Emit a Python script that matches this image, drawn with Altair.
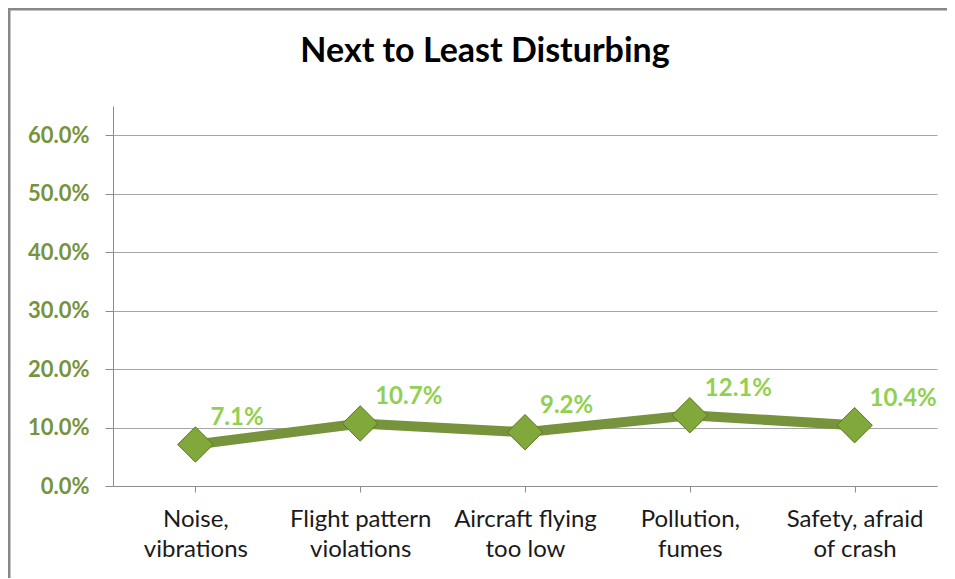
import altair as alt
import pandas as pd

line1 = ["Noise,", "Flight pattern", "Aircraft flying", "Pollution,", "Safety, afraid"]
line2 = ["vibrations", "violations", "too low", "fumes", "of crash"]
values = [0.071, 0.107, 0.092, 0.121, 0.104]
y_ticks = [0.0, 0.1, 0.2, 0.3, 0.4, 0.5, 0.6]

cats = [a + "\n" + b for a, b in zip(line1, line2)]
df = pd.DataFrame({"cat": cats, "val": values})

FONT = "Lato"
GREEN = "#77933C"
LABEL_GREEN = "#92D050"

x = alt.X("cat:N", sort=cats, title=None,
          scale=alt.Scale(paddingInner=0, paddingOuter=0),
          axis=alt.Axis(labelExpr="split(datum.value, '\\n')", labelAngle=0,
                        labelFont=FONT, labelFontSize=24, labelColor="#1a1a1a",
                        labelLineHeight=30, labelPadding=15, labelBaseline="top",
                        bandPosition=0, tickSize=6, tickColor="#8c8c8c",
                        domainColor="#8c8c8c", grid=False))
y = alt.Y("val:Q", title=None,
          scale=alt.Scale(domain=[0, 0.65], nice=False),
          axis=alt.Axis(values=y_ticks, format=".1%", labelFont=FONT,
                        labelFontSize=22, labelFontWeight="bold", labelColor=GREEN,
                        labelPadding=16, tickSize=8, tickColor="#8c8c8c",
                        domainColor="#8c8c8c", gridColor="#a6a6a6",
                        gridWidth=1))

base = alt.Chart(df)

frame = alt.Chart(alt.Data(values=[{"k": 1}])).mark_rect(
    fill="transparent", stroke="#878787", strokeWidth=3, clip=False
).encode(x=alt.value(-104), y=alt.value(-97), x2=alt.value(900), y2=alt.value(600))

line = base.mark_line(color=GREEN, strokeWidth=10).encode(x=x, y=y)
shadow = base.mark_point(shape="diamond", filled=True, size=1300, color="#000000",
                         opacity=0.18, dy=4).encode(x=x, y=y)
pts = base.mark_point(shape="diamond", filled=True, size=1250, fill="#80A83A",
                      stroke="#5E7D22", strokeWidth=1, opacity=1).encode(x=x, y=y)
labels = base.mark_text(align="left", baseline="middle", dx=15, dy=-26,
                        font=FONT, fontSize=24, fontWeight="bold",
                        color=LABEL_GREEN).encode(
    x=x, y=y, text=alt.Text("val:Q", format=".1%"))

chart = alt.layer(frame, line, shadow, pts, labels).properties(
    width=824, height=380,
    background="white",
    title=alt.TitleParams("Next to Least Disturbing", font=FONT, fontSize=34,
                          fontWeight="bold", color="#000000", anchor="middle",
                          dx=-40, offset=-61),
    autosize=alt.AutoSizeParams(type="none"),
    padding={"left": 105, "top": 98, "right": 10, "bottom": 92},
).configure_view(stroke=None)

chart.save("out.html", embed_options={"renderer": "svg", "actions": False})
